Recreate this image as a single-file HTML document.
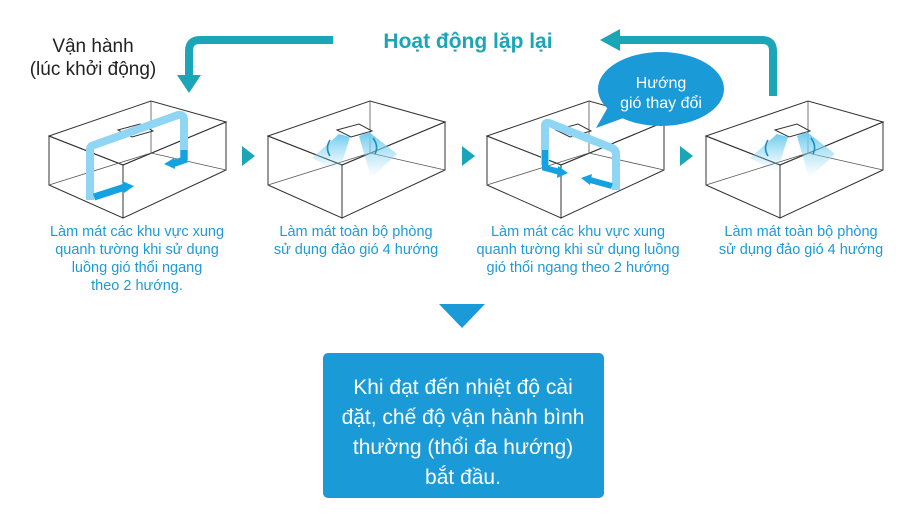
<!DOCTYPE html>
<html><head><meta charset="utf-8"><style>
html,body{margin:0;padding:0;background:#fff;width:906px;height:525px;overflow:hidden}
svg{display:block}
text{font-family:"Liberation Sans","DejaVu Sans",sans-serif}
</style></head><body>
<svg width="906" height="525" viewBox="0 0 906 525">
<defs>
<g id="box" fill="none" stroke="#333" stroke-width="1">
<polygon points="49,136 151,101 226,122 123,165"/>
<polygon points="49,136 123,165 123,218 49,185"/>
<polygon points="123,165 226,122 226,170 123,218"/>
<polyline points="49,185 151,153 226,170" stroke="#555" stroke-width="0.8"/>
<line x1="151" y1="101" x2="151" y2="153" stroke="#555" stroke-width="0.8"/>
<polygon points="118,130 140,124 153,131 132,137" fill="#fff"/>
</g>
<linearGradient id="g1" x1="0" y1="0" x2="0" y2="1"><stop offset="0" stop-color="#6ccbef"/><stop offset="1" stop-color="#9fdcf5" stop-opacity="0"/></linearGradient>
<g id="fan">
<polygon points="120,134 131,137 120,172 93,158" fill="url(#g1)"/>
<polygon points="140,136 150,132 178,154 152,178" fill="url(#g1)"/>
<path d="M111,140 q-5,8 0,16" stroke="#1a8fc0" stroke-width="1.6" fill="none"/>
<path d="M154,138 q6,8 2,16" stroke="#1a8fc0" stroke-width="1.6" fill="none"/>
</g>
</defs>

<use href="#box"/>
<path d="M90,200 L90,150 Q90,146 94,145 L178,115 Q184,114 184,120 L184,160" stroke="#8fd6f5" stroke-width="8" fill="none"/>
<path d="M94,197 L125,187" stroke="#14a3e0" stroke-width="7"/><polygon points="122,181 134,186 124,193" fill="#14a3e0"/>
<path d="M184,150 L184,160 L172,164" stroke="#14a3e0" stroke-width="7" fill="none"/><polygon points="174,158 164,164 175,169" fill="#14a3e0"/>

<use href="#box" x="219"/>
<use href="#fan" x="219"/>
<use href="#box" x="438"/>
<path d="M545,165 L545,126 Q545,122 549,123 L612,148 Q616,150 616,154 L616,190" stroke="#8fd6f5" stroke-width="8" fill="none"/>
<path d="M545,150 L545,168 L560,172" stroke="#14a3e0" stroke-width="6" fill="none"/><polygon points="558,166 568,173 557,178" fill="#14a3e0"/>
<path d="M612,186 L590,180" stroke="#14a3e0" stroke-width="6"/><polygon points="592,174 581,178 590,185" fill="#14a3e0"/>
<use href="#box" x="657"/>
<use href="#fan" x="657"/>

<polygon points="242,146 255,156 242,166" fill="#1aa6b7"/>
<polygon points="462,146 475,156 462,166" fill="#1aa6b7"/>
<polygon points="680,146 693,156 680,166" fill="#1aa6b7"/>

<path d="M333,40 L200,40 Q189,40 189,51 L189,76" stroke="#1aa6b7" stroke-width="8" fill="none"/>
<polygon points="177,75 201,75 189,93" fill="#1aa6b7"/>
<path d="M773,96 L773,51 Q773,40 762,40 L618,40" stroke="#1aa6b7" stroke-width="8" fill="none"/>
<polygon points="620,29 620,51 600,40" fill="#1aa6b7"/>
<text x="468" y="48" text-anchor="middle" font-size="21" font-weight="bold" fill="#1aa6b7">Hoạt động lặp lại</text>

<text x="93" y="52" text-anchor="middle" font-size="19" fill="#222">Vận hành</text>
<text x="93" y="75" text-anchor="middle" font-size="19" fill="#222">(lúc khởi động)</text>

<polygon points="612,100 640,112 596,128" fill="#1a9ad6"/>
<ellipse cx="661" cy="89" rx="63" ry="37" fill="#1a9ad6"/>
<text x="661" y="88" text-anchor="middle" font-size="16" fill="#fff">Hướng</text>
<text x="661" y="108" text-anchor="middle" font-size="16" fill="#fff">gió thay đổi</text>

<g font-size="14.5" fill="#1e9ad6" text-anchor="middle">
<text x="137" y="236">Làm mát các khu vực xung</text>
<text x="137" y="254">quanh tường khi sử dụng</text>
<text x="137" y="272">luồng gió thổi ngang</text>
<text x="137" y="290">theo 2 hướng.</text>
<text x="356" y="236">Làm mát toàn bộ phòng</text>
<text x="356" y="254">sử dụng đảo gió 4 hướng</text>
<text x="578" y="236">Làm mát các khu vực xung</text>
<text x="578" y="254">quanh tường khi sử dụng luồng</text>
<text x="578" y="272">gió thổi ngang theo 2 hướng</text>
<text x="801" y="236">Làm mát toàn bộ phòng</text>
<text x="801" y="254">sử dụng đảo gió 4 hướng</text>
</g>

<polygon points="439,304 485,304 462,328" fill="#1a9ad6"/>
<rect x="323" y="353" width="281" height="145" rx="5" fill="#1a9ad6"/>
<g font-size="21" fill="#fff" text-anchor="middle">
<text x="463" y="394">Khi đạt đến nhiệt độ cài</text>
<text x="463" y="424">đặt, chế độ vận hành bình</text>
<text x="463" y="454">thường (thổi đa hướng)</text>
<text x="463" y="484">bắt đầu.</text>
</g>
</svg>
</body></html>
